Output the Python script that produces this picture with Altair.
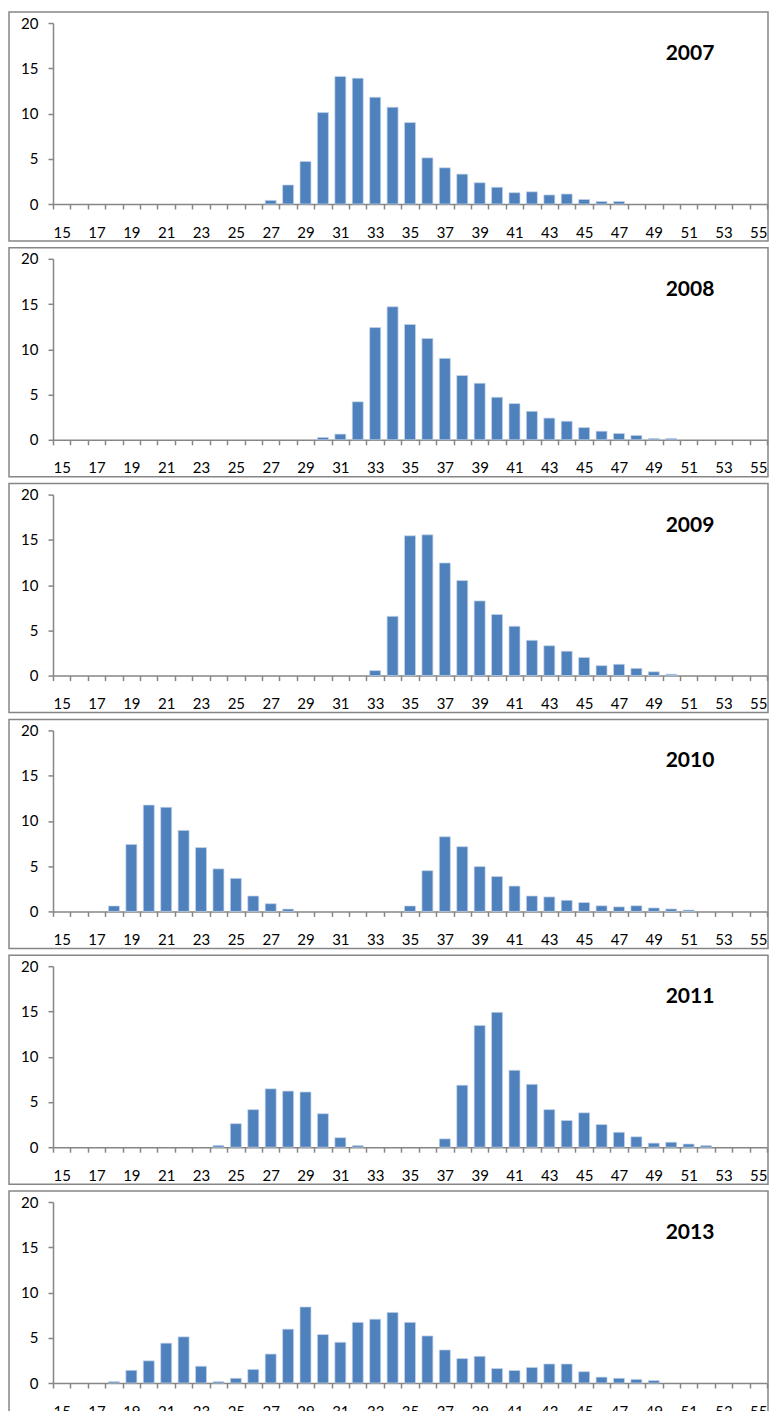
import altair as alt
import pandas as pd

ages = [15, 16, 17, 18, 19, 20, 21, 22, 23, 24, 25, 26, 27, 28, 29, 30, 31, 32, 33, 34,
        35, 36, 37, 38, 39, 40, 41, 42, 43, 44, 45, 46, 47, 48, 49, 50, 51, 52, 53, 54, 55]

years = ["2007", "2008", "2009", "2010", "2011", "2013"]

v2007 = [0, 0, 0, 0, 0, 0, 0, 0, 0, 0, 0, 0,
         0.4, 2.1, 4.7, 10.1, 14.1, 13.9, 11.8, 10.7, 9.0, 5.1, 4.0, 3.3, 2.35, 1.85, 1.25,
         1.35, 1.0, 1.1, 0.5, 0.28, 0.28,
         0, 0, 0, 0, 0, 0, 0, 0]

v2008 = [0, 0, 0, 0, 0, 0, 0, 0, 0, 0, 0, 0, 0, 0, 0,
         0.26, 0.63, 4.2, 12.4, 14.7, 12.75, 11.2, 9.0, 7.1, 6.25, 4.7, 4.0, 3.15, 2.4, 2.05,
         1.35, 0.95, 0.7, 0.48, 0.15, 0.15,
         0, 0, 0, 0, 0]

v2009 = [0, 0, 0, 0, 0, 0, 0, 0, 0, 0, 0, 0, 0, 0, 0, 0, 0, 0,
         0.55, 6.55, 15.45, 15.55, 12.45, 10.5, 8.25, 6.75, 5.45, 3.9, 3.3, 2.7, 2.0, 1.1,
         1.25, 0.8, 0.42, 0.15,
         0, 0, 0, 0, 0]

v2010 = [0, 0, 0,
         0.6, 7.4, 11.75, 11.5, 8.95, 7.05, 4.7, 3.65, 1.7, 0.85, 0.26,
         0, 0, 0, 0, 0, 0,
         0.6, 4.5, 8.25, 7.15, 4.95, 3.85, 2.8, 1.7, 1.6, 1.22, 0.98, 0.62, 0.5, 0.62, 0.38,
         0.27, 0.15,
         0, 0, 0, 0]

v2011 = [0, 0, 0, 0, 0, 0, 0, 0, 0,
         0.2, 2.6, 4.15, 6.45, 6.2, 6.1, 3.7, 1.05, 0.18,
         0, 0, 0, 0,
         0.92, 6.85, 13.45, 14.9, 8.5, 6.95, 4.15, 2.95, 3.8, 2.5, 1.65, 1.15, 0.45, 0.55,
         0.35, 0.18,
         0, 0, 0]

v2013 = [0, 0, 0,
         0.15, 1.4, 2.45, 4.4, 5.1, 1.85, 0.15, 0.52, 1.5, 3.2, 5.95, 8.4, 5.35, 4.5, 6.7,
         7.05, 7.8, 6.7, 5.2, 3.65, 2.7, 2.95, 1.6, 1.38, 1.72, 2.1, 2.1, 1.25, 0.65, 0.52,
         0.4, 0.27,
         0, 0, 0, 0, 0, 0]

series = [v2007, v2008, v2009, v2010, v2011, v2013]

W, H = 714, 181
BLUE = "#4F81BD"
GRAY = "#868686"
FONT = "Lato"


def panel(year, vals):
    df = pd.DataFrame({"age": ages, "value": vals})
    bars = (
        alt.Chart(df)
        .transform_filter("datum.value > 0")
        .mark_bar(color=BLUE, width=alt.RelativeBandSize(0.63),
                  stroke="#c5d5ea", strokeWidth=0.7)
        .encode(
            x=alt.X("age:O",
                    scale=alt.Scale(domain=ages, paddingInner=0, paddingOuter=0),
                    axis=alt.Axis(title=None, labelAngle=0,
                                  labelExpr="datum.value % 2 == 1 ? datum.label : ''",
                                  tickBand="extent", tickSize=5, tickWidth=1.5,
                                  tickColor=GRAY, domainColor=GRAY, domainWidth=1.5,
                                  labelFont=FONT, labelFontSize=15, labelColor="black",
                                  labelPadding=16)),
            y=alt.Y("value:Q",
                    scale=alt.Scale(domain=[0, 20], nice=False),
                    axis=alt.Axis(title=None, values=[0, 5, 10, 15, 20], grid=False,
                                  tickSize=5, tickWidth=1.5, tickColor=GRAY,
                                  domainColor=GRAY, domainWidth=1.5,
                                  labelFont=FONT, labelFontSize=15, labelColor="black",
                                  labelPadding=10)),
        )
    )
    meta = pd.DataFrame({"year": [year]})
    frame = alt.Chart(meta).mark_rect(fill="transparent", stroke=GRAY, strokeWidth=1.5).encode(
        x=alt.value(-44), x2=alt.value(W + 1), y=alt.value(-11), y2=alt.value(H + 37)
    )
    label = alt.Chart(meta).mark_text(font=FONT, fontSize=21, fontWeight="bold",
                                      color="black", align="center",
                                      baseline="middle").encode(
        x=alt.value(637), y=alt.value(31), text="year:N"
    )
    return alt.layer(frame, bars, label).properties(width=W, height=H)


chart = (
    alt.vconcat(*[panel(y, v) for y, v in zip(years, series)], spacing=4.8)
    .configure(padding={"left": 0, "top": 3, "right": 0, "bottom": 0})
    .configure_view(stroke=None)
)

chart.save("out.html", embed_options={"renderer": "svg", "actions": False})
